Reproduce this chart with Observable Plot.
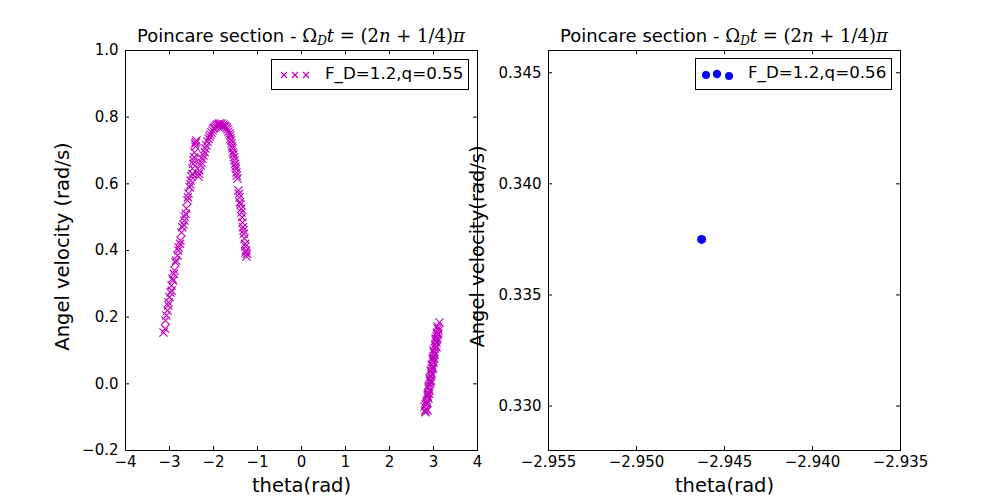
<!DOCTYPE html>
<html>
<head>
<meta charset="utf-8">
<script src="https://cdn.jsdelivr.net/npm/d3@7"></script>
<script src="https://cdn.jsdelivr.net/npm/@observablehq/plot@0.6"></script>
<style>
  body { margin: 0; background: white; }
  #wrap { position: relative; width: 1000px; height: 500px; overflow: hidden; font-family: "DejaVu Sans", sans-serif; }
  .title { position: absolute; top: 25px; font-size: 18px; white-space: nowrap; transform: translateX(-50%); color: #000; }
  .m { font-family: "DejaVu Serif", serif; }
  .m sub { font-size: 12px; vertical-align: -3px; }
  .legend { position: absolute; border: 1px solid #000; background: #fff; box-sizing: border-box; font-size: 16.7px; }
  .legend svg { position: absolute; left: 0; top: 0; }
  .legend span { position: absolute; top: 3px; }
</style>
</head>
<body>
<div id="wrap"></div>
<script>
// ---------- data ----------
// Left panel: F_D=1.2, q=0.55 (theta, omega)
const leftTheta = [
  -3.136,-3.091,-3.045,-3.023,-2.977,-2.955,-2.932,-2.886,-2.864,-2.818,-2.795,-2.750,-2.727,-2.682,-2.659,-2.614,-2.591,-2.568,-2.523,-2.500,-2.477,-2.455,-2.432,-2.409,-2.386,
  -3.100,-3.070,-3.030,-3.000,-2.950,-2.920,-2.900,-2.850,-2.800,-2.760,-2.710,-2.660,-2.630,-2.580,-2.540,-2.520,-2.480,-2.460,-2.440,-2.420,-2.400,
  -2.341,-2.318,-2.273,-2.227,-2.182,-2.136,-2.091,-2.045,-2.000,-1.955,-1.909,-1.864,-1.818,-1.773,-1.727,-1.682,-1.636,-1.614,-1.591,-1.568,-1.545,-1.523,-1.500,-1.477,-1.455,-1.432,-1.409,-1.386,-1.364,-1.341,-1.318,-1.295,-1.273,-1.273,-1.250,
  -2.330,-2.290,-2.250,-2.200,-2.160,-2.110,-2.070,-2.020,-1.980,-1.930,-1.880,-1.840,-1.800,-1.750,-1.700,-1.660,-1.620,-1.600,-1.580,-1.560,-1.530,-1.510,-1.490,-1.470,-1.420,-1.400,-1.370,-1.350,-1.330,-1.310,-1.280,-1.260,-1.240,
  2.818,2.864,2.795,2.841,2.886,2.864,2.909,2.886,2.932,2.909,2.955,2.932,2.977,3.000,2.977,3.023,3.000,3.045,3.068,3.045,3.091,3.114,3.091,3.136,
  2.840,2.820,2.850,2.870,2.880,2.890,2.910,2.920,2.940,2.950,2.960,2.960,2.990,3.000,3.010,3.030,3.040,3.050,3.070,3.080,3.100,3.110,3.090,3.070,3.020,2.990,2.940,2.900,2.850,2.810
];
const leftOmega = [
  0.154,0.190,0.220,0.244,0.274,0.295,0.316,0.340,0.364,0.385,0.409,0.430,0.454,0.478,0.502,0.526,0.550,0.571,0.598,0.622,0.646,0.670,0.694,0.712,0.730,
  0.165,0.205,0.235,0.260,0.280,0.310,0.330,0.370,0.400,0.420,0.470,0.490,0.510,0.560,0.590,0.610,0.630,0.660,0.680,0.720,0.725,
  0.622,0.640,0.664,0.685,0.706,0.727,0.742,0.754,0.766,0.772,0.778,0.781,0.781,0.778,0.772,0.763,0.751,0.736,0.721,0.706,0.688,0.670,0.652,0.634,0.616,0.580,0.559,0.538,0.514,0.484,0.460,0.436,0.412,0.394,0.382,
  0.630,0.655,0.675,0.695,0.715,0.735,0.748,0.760,0.768,0.775,0.779,0.776,0.772,0.774,0.768,0.757,0.745,0.730,0.712,0.695,0.680,0.660,0.645,0.625,0.570,0.545,0.525,0.500,0.470,0.450,0.420,0.400,0.390,
  -0.085,-0.080,-0.068,-0.056,-0.044,-0.032,-0.020,-0.008,0.004,0.016,0.028,0.040,0.052,0.064,0.076,0.088,0.100,0.112,0.124,0.136,0.148,0.160,0.172,0.184,
  -0.075,-0.062,-0.050,-0.038,-0.026,-0.014,-0.002,0.010,0.022,0.034,0.046,0.058,0.070,0.082,0.094,0.106,0.118,0.130,0.142,0.154,0.166,0.150,0.135,0.110,0.075,0.045,0.010,-0.030,-0.060,-0.080
];
// Right panel: F_D=1.2, q=0.56 (single fixed point)
const rightTheta = [-2.9463];
const rightOmega = [0.3375];

const leftXTicks = [-4,-3,-2,-1,0,1,2,3,4];
const leftYTicks = [-0.2,0.0,0.2,0.4,0.6,0.8,1.0];
const rightXTicks = [-2.955,-2.950,-2.945,-2.940,-2.935];
const rightYTicks = [0.330,0.335,0.340,0.345];

const leftLabel = "F_D=1.2,q=0.55";
const rightLabel = "F_D=1.2,q=0.56";
const xLabel = "theta(rad)";
const leftYLabel = "Angel velocity (rad/s)";
const rightYLabel = "Angel velocity(rad/s)";

// ---------- drawing ----------
const W = 1000, H = 500, MT = 50, MB = 50;
const innerH = H - MT - MB;
const wrap = document.getElementById("wrap");

function panel({ml, mr, xDomain, yDomain, xTicks, yTicks, marks, xFmt, yFmt, yLabel, yLabelOffset}) {
  const innerW = W - ml - mr;
  return Plot.plot({
    width: W, height: H,
    marginLeft: ml, marginRight: mr, marginTop: MT, marginBottom: MB,
    style: {position: "absolute", left: "0px", top: "0px", background: "transparent", overflow: "visible", fontFamily: "DejaVu Sans, sans-serif", fontSize: "15px", color: "#000"},
    x: {domain: xDomain, axis: null, label: null},
    y: {domain: yDomain, axis: null, label: null},
    marks: [
      ...marks,
      Plot.frame({stroke: "#000", strokeWidth: 1}),
      Plot.tickX(xTicks, {x: d => d, insetTop: innerH - 4, stroke: "#000"}),
      Plot.tickX(xTicks, {x: d => d, insetBottom: innerH - 4, stroke: "#000"}),
      Plot.tickY(yTicks, {y: d => d, insetLeft: innerW - 4, stroke: "#000"}),
      Plot.tickY(yTicks, {y: d => d, insetRight: innerW - 4, stroke: "#000"}),
      Plot.axisX(xTicks, {tickSize: 0, tickPadding: 6, tickFormat: xFmt, fill: "#000", fontSize: 15, label: null}),
      Plot.axisY(yTicks, {tickSize: 0, tickPadding: 7, tickFormat: yFmt, fill: "#000", fontSize: 15, label: null}),
      Plot.text([xLabel], {frameAnchor: "bottom", dy: 41, text: d => d, fontSize: 19.5, fill: "#000"}),
      Plot.text([yLabel], {frameAnchor: "left", textAnchor: "middle", dx: -yLabelOffset, dy: -4, rotate: -90, text: d => d, fontSize: 19.5, fill: "#000"})
    ]
  });
}

const minusFmt = f => d => d3.format(f)(d);

const left = panel({
  ml: 125, mr: 523,
  xDomain: [-4, 4], yDomain: [-0.2, 1.0],
  xTicks: leftXTicks, yTicks: leftYTicks,
  xFmt: minusFmt("d"), yFmt: minusFmt(".1f"),
  yLabel: leftYLabel, yLabelOffset: 63,
  marks: [
    Plot.dot(leftTheta.map((t, i) => ({t, w: leftOmega[i]})), {x: "t", y: "w", symbol: "times", r: 3.8, stroke: "#bf00bf", strokeWidth: 1.2})
  ]
});
const right = panel({
  ml: 548, mr: 100,
  xDomain: [-2.955, -2.935], yDomain: [0.328, 0.346],
  xTicks: rightXTicks, yTicks: rightYTicks,
  xFmt: minusFmt(".3f"), yFmt: minusFmt(".3f"),
  yLabel: rightYLabel, yLabelOffset: 71,
  marks: [
    Plot.dot(rightTheta.map((t, i) => ({t, w: rightOmega[i]})), {x: "t", y: "w", r: 4.5, fill: "#0000ff", stroke: "none"})
  ]
});
wrap.appendChild(left);
wrap.appendChild(right);

// titles
const titleHTML = 'Poincare section - <span class="m">Ω<sub><i>D</i></sub><i>t</i> = (2<i>n</i> + 1/4)<i>π</i></span>';
for (const cx of [301, 724]) {
  const t = document.createElement("div");
  t.className = "title";
  t.style.left = cx + "px";
  t.innerHTML = titleHTML;
  wrap.appendChild(t);
}

// legends
function legend(x, y, w, h, label, kind) {
  const box = document.createElement("div");
  box.className = "legend";
  Object.assign(box.style, {left: x + "px", top: y + "px", width: w + "px", height: h + "px"});
  let svg;
  if (kind === "x") {
    const xs = [12, 23, 34];
    svg = `<svg width="50" height="${h}">` + xs.map(cx => `<path d="M${cx-3},${15-3}L${cx+3},${15+3}M${cx-3},${15+3}L${cx+3},${15-3}" stroke="#bf00bf" stroke-width="1.2"/>`).join("") + `</svg>`;
  } else {
    const pts = [[10, 16, 4], [21, 15, 4.2], [33, 17, 4]];
    svg = `<svg width="50" height="${h}">` + pts.map(([cx, cy, r]) => `<circle cx="${cx}" cy="${cy}" r="${r}" fill="#0000ff"/>`).join("") + `</svg>`;
  }
  box.innerHTML = svg + `<span style="left:${kind === "x" ? 53 : 52}px">${label}</span>`;
  wrap.appendChild(box);
}
legend(271, 59, 198, 31, leftLabel, "x");
legend(695, 58, 197, 32, rightLabel, "o");
</script>
</body>
</html>
